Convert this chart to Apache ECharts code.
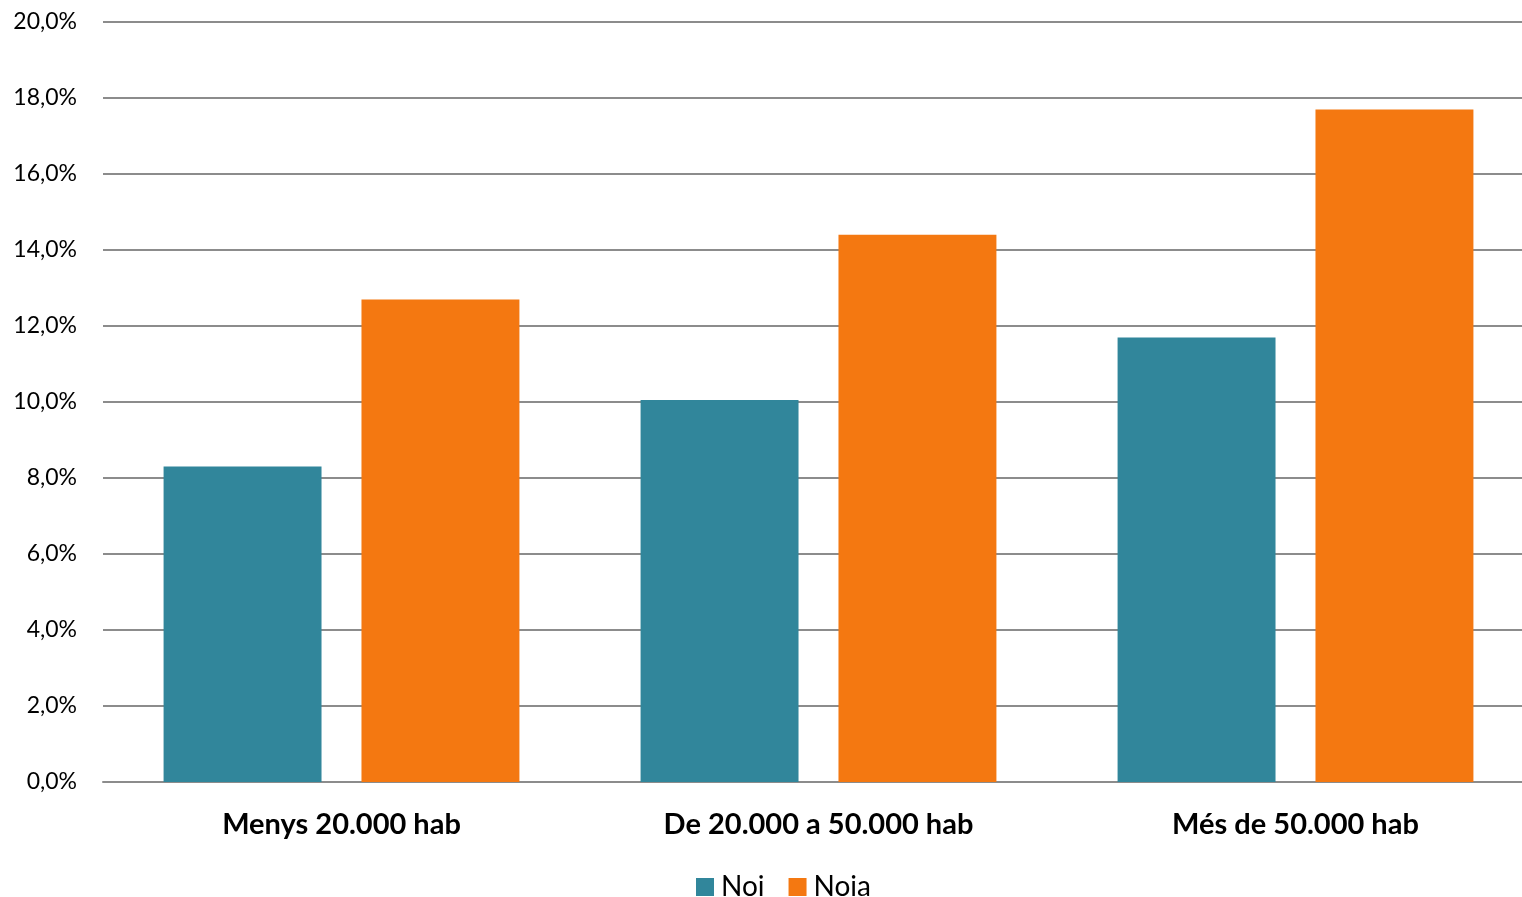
<!DOCTYPE html>
<html>
<head>
<meta charset="utf-8">
<script src="https://cdn.jsdelivr.net/npm/echarts@6/dist/echarts.min.js"></script>
<style>
html,body{margin:0;padding:0;background:#fff;overflow:hidden;}
#chart{width:1522px;height:897px;}
</style>
</head>
<body>
<div id="chart"></div>
<script>
const categories = ['Menys 20.000 hab', 'De 20.000 a 50.000 hab', 'Més de 50.000 hab'];
const noiValues = [8.3, 10.05, 11.7];
const noiaValues = [12.7, 14.4, 17.7];
const yTicks = [0, 2, 4, 6, 8, 10, 12, 14, 16, 18, 20];

const chart = echarts.init(document.getElementById('chart'));
chart.setOption({
  animation: false,
  textStyle: { fontFamily: 'Lato, "Open Sans", sans-serif' },
  grid: { left: 103, top: 22, width: 1431, height: 760, containLabel: false, outerBoundsMode: 'none' },
  legend: {
    left: 696,
    top: 870,
    itemWidth: 18,
    itemHeight: 18,
    itemGap: 24,
    icon: 'rect',
    padding: 0,
    textStyle: { fontSize: 28, lineHeight: 34, color: '#000', fontFamily: 'Lato, sans-serif', padding: [0, 0, 0, 2] },
    data: ['Noi', 'Noia']
  },
  xAxis: {
    type: 'category',
    data: categories,
    axisLine: { lineStyle: { color: '#8c8c8c', width: 2 } },
    axisTick: { show: false },
    axisLabel: { fontSize: 29, fontWeight: 'bold', color: '#000', margin: 28, fontFamily: 'Lato, sans-serif' }
  },
  yAxis: {
    type: 'value',
    min: yTicks[0],
    max: yTicks[yTicks.length - 1],
    interval: 2,
    axisLine: { show: false },
    axisTick: { show: false },
    splitLine: { lineStyle: { color: '#8c8c8c', width: 2 } },
    axisLabel: {
      fontSize: 23, color: '#000', margin: 26,
      formatter: v => v.toFixed(1).replace('.', ',') + '%'
    }
  },
  series: [
    { name: 'Noi', type: 'bar', data: noiValues, itemStyle: { color: '#31869b' }, barGap: '25.3%', barCategoryGap: '25.4%' },
    { name: 'Noia', type: 'bar', data: noiaValues, itemStyle: { color: '#f47811' }, barGap: '25.3%', barCategoryGap: '25.4%' }
  ]
});
</script>
</body>
</html>
